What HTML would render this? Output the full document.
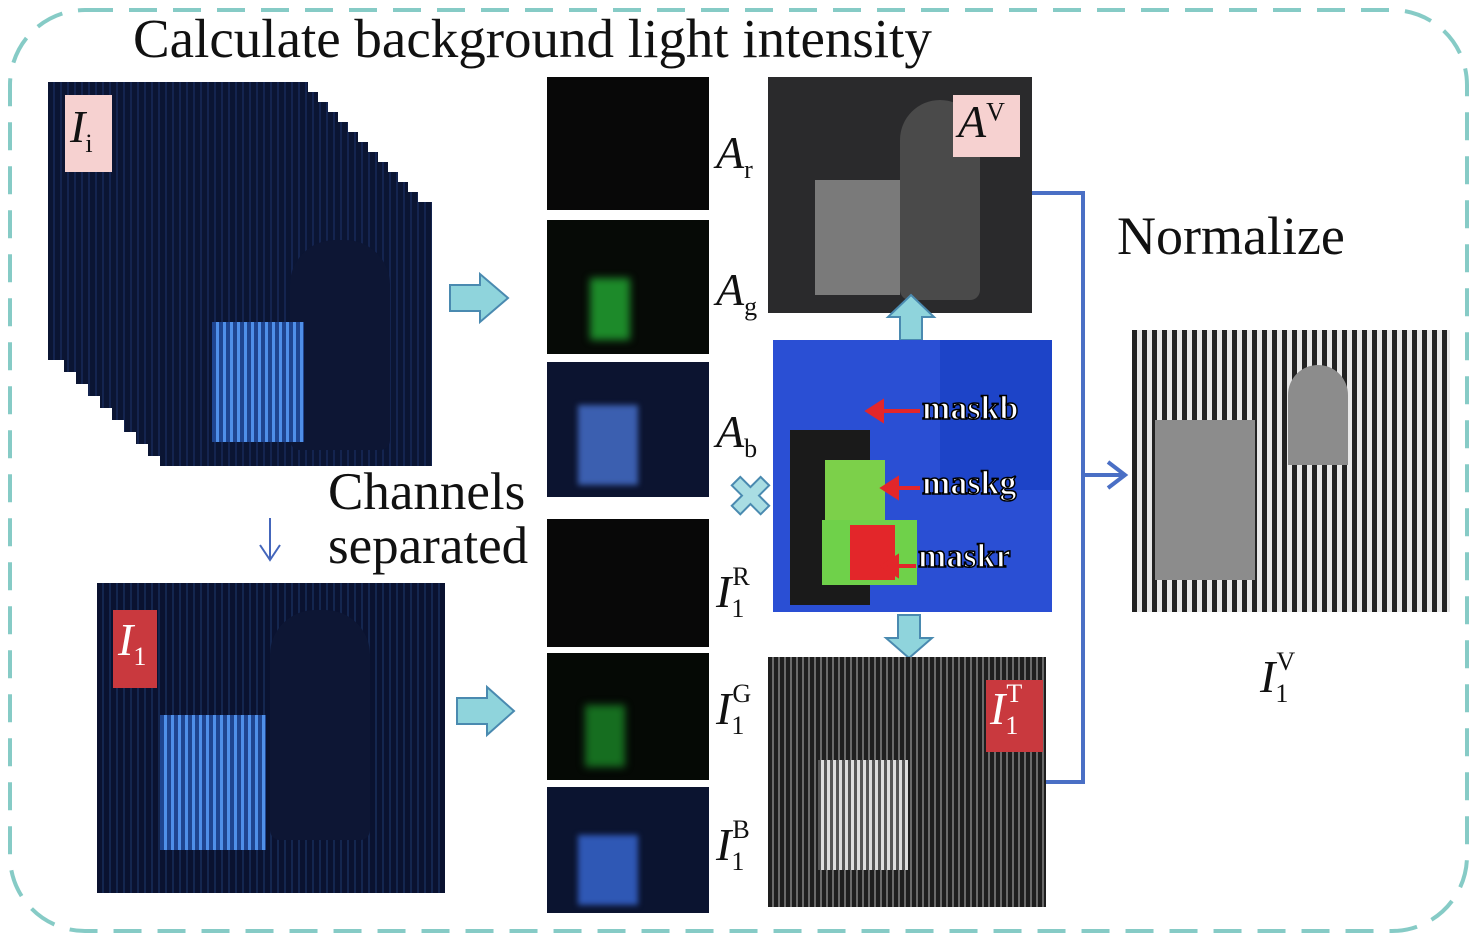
<!DOCTYPE html>
<html><head><meta charset="utf-8"><style>
body{margin:0;background:#fff;width:1477px;height:941px;position:relative;overflow:hidden;font-family:"Liberation Serif",serif}
.a{position:absolute}
.t{position:absolute;font-family:"Liberation Serif",serif;color:#111;white-space:nowrap}
.lab{position:absolute;font-family:"Liberation Serif",serif;font-style:italic;font-size:46px;color:#111}
.lab sub,.lab sup{font-style:normal;font-size:26px}
.mask{position:absolute;font-family:"Liberation Serif",serif;font-size:34px;color:#fff;-webkit-text-stroke:1.5px #000;font-weight:bold}
</style></head><body>
<svg class="a" style="left:0;top:0" width="1477" height="941"><rect x="10" y="10" width="1457" height="921" rx="75" fill="none" stroke="#86cbc6" stroke-width="4" stroke-dasharray="28 16"/></svg>
<div class="t" style="left:133px;top:7px;font-size:55px">Calculate background light intensity</div>

<div class="a" style="left:48px;top:82px;width:384px;height:384px;background:repeating-linear-gradient(90deg,#0b1533 0 5px,#14244f 5px 7px);clip-path:polygon(0 0,260px 0,260px 10px,270px 10px,270px 20px,280px 20px,280px 30px,290px 30px,290px 40px,300px 40px,300px 50px,310px 50px,310px 60px,320px 60px,320px 70px,330px 70px,330px 80px,340px 80px,340px 90px,350px 90px,350px 100px,360px 100px,360px 110px,370px 110px,370px 120px,384px 120px,384px 384px,112px 384px,112px 374px,100px 374px,100px 362px,88px 362px,88px 350px,76px 350px,76px 338px,64px 338px,64px 326px,52px 326px,52px 314px,40px 314px,40px 302px,28px 302px,28px 290px,16px 290px,16px 278px,0 278px)"></div>
<div class="a" style="left:290px;top:240px;width:100px;height:210px;background:#0d1634;border-radius:45px 45px 10px 10px"></div>
<div class="a" style="left:212px;top:322px;width:92px;height:120px;background:repeating-linear-gradient(90deg,#1f4590 0 4px,#4f8fe8 4px 7px)"></div>
<div class="a" style="left:65px;top:95px;width:47px;height:77px;background:#f6d1d0"></div>
<div class="lab" style="left:70px;top:100px">I<sub>i</sub></div>

<svg class="a" style="left:0;top:0" width="1477" height="941"><g stroke="#4466bb" stroke-width="2" fill="none"><line x1="270" y1="518" x2="270" y2="560"/><polyline points="260,545 270,560 280,545"/></g></svg>

<div class="a" style="left:97px;top:583px;width:348px;height:310px;background:repeating-linear-gradient(90deg,#0a1230 0 5px,#14264f 5px 7px)"></div>
<div class="a" style="left:270px;top:610px;width:100px;height:230px;background:#0d1634;border-radius:45px 45px 10px 10px"></div>
<div class="a" style="left:160px;top:715px;width:106px;height:135px;background:repeating-linear-gradient(90deg,#1f4590 0 4px,#4f8fe8 4px 7px)"></div>
<div class="a" style="left:113px;top:610px;width:44px;height:78px;background:#c9393e"></div>
<div class="lab" style="left:118px;top:613px;color:#fff">I<sub>1</sub></div>

<svg class="a" style="left:0;top:0;z-index:0" width="1477" height="941">
<g fill="#8fd4dc" stroke="#4a8ab0" stroke-width="2">
<polygon points="450,285 480,285 480,274 508,298 480,322 480,311 450,311"/>
<polygon points="457,698 487,698 487,687 514,711 487,735 487,724 457,724"/>
<polygon points="898,615 920,615 920,638 932,638 909,658 886,638 898,638"/>
</g>
<text x="727" y="516" font-size="56" fill="#a9dde3" stroke="#4a8ab0" stroke-width="2" font-family="Liberation Sans">✖</text>
<g stroke="#4a6fc5" stroke-width="4" fill="none">
<polyline points="1032,193 1083,193 1083,782 1046,782"/>
<line x1="1083" y1="475" x2="1122" y2="475"/>
<polyline points="1108,462 1125,475 1108,488"/>
</g>
</svg>

<div class="t" style="left:328px;top:465px;font-size:53px;line-height:54px">Channels<br>separated</div>

<div class="a" style="left:547px;top:77px;width:162px;height:133px;background:#080808"></div>
<div class="a" style="left:547px;top:220px;width:162px;height:134px;background:#060a06"></div>
<div class="a" style="left:590px;top:278px;width:40px;height:62px;background:#1d8a2a;filter:blur(4px)"></div>
<div class="a" style="left:547px;top:362px;width:162px;height:135px;background:#0c1430"></div>
<div class="a" style="left:578px;top:405px;width:60px;height:80px;background:#3b5fb0;filter:blur(3px)"></div>
<div class="a" style="left:547px;top:519px;width:162px;height:128px;background:#080808"></div>
<div class="a" style="left:547px;top:653px;width:162px;height:127px;background:#050905"></div>
<div class="a" style="left:585px;top:705px;width:40px;height:62px;background:#166e20;filter:blur(4px)"></div>
<div class="a" style="left:547px;top:787px;width:162px;height:126px;background:#0b1430"></div>
<div class="a" style="left:578px;top:835px;width:60px;height:70px;background:#2f58b5;filter:blur(3px)"></div>

<div class="lab" style="left:716px;top:126px">A<sub>r</sub></div>
<div class="lab" style="left:716px;top:263px">A<sub>g</sub></div>
<div class="lab" style="left:716px;top:405px">A<sub>b</sub></div>
<div class="lab" style="left:716px;top:565px">I<sub>1</sub><sup style="position:relative;left:-12px;top:-6px">R</sup></div>
<div class="lab" style="left:716px;top:682px">I<sub>1</sub><sup style="position:relative;left:-12px;top:-6px">G</sup></div>
<div class="lab" style="left:716px;top:818px">I<sub>1</sub><sup style="position:relative;left:-12px;top:-6px">B</sup></div>

<div class="a" style="left:768px;top:77px;width:264px;height:236px;background:#2a2a2c"></div>
<div class="a" style="left:815px;top:180px;width:85px;height:115px;background:#7a7a7a"></div>
<div class="a" style="left:900px;top:100px;width:80px;height:200px;background:#4a4a4a;border-radius:40px 40px 10px 10px"></div>
<div class="a" style="left:953px;top:95px;width:67px;height:62px;background:#f6d1d0"></div>
<div class="lab" style="left:958px;top:95px">A<sup style="font-size:26px">V</sup></div>
<svg class="a" style="left:0;top:0" width="1477" height="941"><polygon points="900,340 922,340 922,317 934,317 911,295 888,317 900,317" fill="#8fd4dc" stroke="#4a8ab0" stroke-width="2"/></svg>

<div class="a" style="left:773px;top:340px;width:279px;height:272px;background:#2a4fd4"></div>
<div class="a" style="left:790px;top:430px;width:80px;height:175px;background:#1a1a1a"></div>
<div class="a" style="left:825px;top:460px;width:60px;height:60px;background:#7cd04a"></div>
<div class="a" style="left:822px;top:520px;width:95px;height:65px;background:#6fd14a"></div>
<div class="a" style="left:850px;top:525px;width:45px;height:55px;background:#e3262a"></div>
<div class="a" style="left:940px;top:340px;width:112px;height:150px;background:#1d44c8"></div>
<div class="mask" style="left:922px;top:390px">maskb</div>
<div class="mask" style="left:922px;top:465px">maskg</div>
<div class="mask" style="left:918px;top:538px">maskr</div>
<svg class="a" style="left:0;top:0" width="1477" height="941"><g stroke="#e3262a" stroke-width="4" fill="#e3262a">
<line x1="920" y1="411" x2="880" y2="411"/><polygon points="868,411 882,402 882,420"/>
<line x1="920" y1="488" x2="895" y2="488"/><polygon points="883,488 897,479 897,497"/>
<line x1="916" y1="566" x2="895" y2="566"/><polygon points="883,566 897,557 897,575"/></g></svg>

<div class="a" style="left:768px;top:657px;width:278px;height:250px;background:repeating-linear-gradient(90deg,#1e1e1e 0 4px,#6a6a6a 4px 6px)"></div>
<div class="a" style="left:818px;top:760px;width:90px;height:110px;background:repeating-linear-gradient(90deg,#555 0 3px,#ddd 3px 6px)"></div>
<div class="a" style="left:986px;top:680px;width:57px;height:72px;background:#c9393e"></div>
<div class="lab" style="left:990px;top:682px;color:#fff">I<sub>1</sub><sup style="position:relative;left:-12px;top:-6px">T</sup></div>

<div class="t" style="left:1117px;top:205px;font-size:54px">Normalize</div>
<div class="a" style="left:1132px;top:330px;width:318px;height:282px;background:repeating-linear-gradient(90deg,#222 0 5px,#e8e8e8 5px 10px)"></div>
<div class="a" style="left:1155px;top:420px;width:100px;height:160px;background:#8c8c8c"></div>
<div class="a" style="left:1288px;top:365px;width:60px;height:100px;background:#8c8c8c;border-radius:30px 30px 0 0"></div>
<div class="lab" style="left:1260px;top:650px">I<sub>1</sub><sup style="position:relative;left:-12px;top:-6px">V</sup></div>
</body></html>
